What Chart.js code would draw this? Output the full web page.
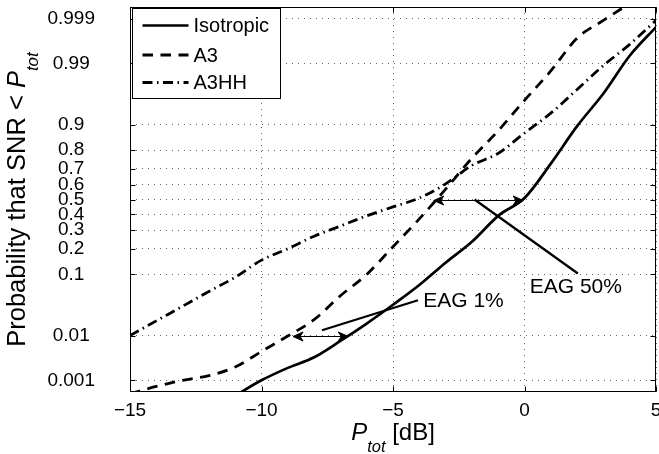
<!DOCTYPE html>
<html>
<head>
<meta charset="utf-8">
<script src="https://cdn.jsdelivr.net/npm/chart.js@4.4.1/dist/chart.umd.min.js"></script>
<style>
    html, body { margin: 0; padding: 0; background: #fff; }
    #Wrap { width: 659px; height: 454px; position: relative; }
</style>
</head>
<body>
<div id="Wrap"><canvas id="ChartCanvas"></canvas></div>
<script>
// Series: x in dB, y as probability
const isoDb    = [-11, -10, -9, -8, -7, -6, -5, -4, -3, -2, -1, 0, 1, 2, 3, 4, 5];
const isoProb  = [0.0004, 0.001, 0.002, 0.0035, 0.0078, 0.017, 0.036, 0.072, 0.14, 0.235, 0.39, 0.51, 0.73, 0.895, 0.965, 0.993, 0.9984];

const a3Db     = [-15, -14, -13, -12, -11, -10, -9, -8, -7, -6, -5, -4, -3, -2, -1, 0, 1, 2, 3, 4];
const a3Prob   = [0.00045, 0.0007, 0.001, 0.0013, 0.0021, 0.0047, 0.0098, 0.02, 0.05, 0.1, 0.21, 0.37, 0.57, 0.76, 0.88, 0.955, 0.986, 0.9971, 0.9989, 0.9996];

const a3hhDb   = [-15, -14, -13, -12, -11, -10, -9, -8, -7, -6, -5, -4, -3, -2, -1, 0, 1, 2, 3, 4, 5];
const a3hhProb = [0.01, 0.019, 0.034, 0.058, 0.092, 0.15, 0.2, 0.265, 0.325, 0.39, 0.45, 0.51, 0.605, 0.72, 0.785, 0.872, 0.93, 0.97, 0.989, 0.996, 0.9989];

const seriesLabels = ['Isotropic', 'A3', 'A3HH'];

// Axis ticks
const probTicks      = [0.001, 0.01, 0.1, 0.2, 0.3, 0.4, 0.5, 0.6, 0.7, 0.8, 0.9, 0.99, 0.999];
const probTickLabels = ['0.001', '0.01', '0.1', '0.2', '0.3', '0.4', '0.5', '0.6', '0.7', '0.8', '0.9', '0.99', '0.999'];
const dbTicks        = [-15, -10, -5, 0, 5];

// Annotations (data units)
const eag50Arrow = { fromDb: -3.45, toDb: -0.05, prob: 0.5 };
const eag1Arrow  = { fromDb: -8.8, toDb: -6.7, prob: 0.01 };
const eag50Line  = { fromDb: -1.9, fromProb: 0.5, toDb: 2.03, toProb: 0.103 };
const eag1Line   = { fromDb: -7.7, fromProb: 0.0127, toDb: -4.05, toProb: 0.0425 };
const eag50Text  = { text: 'EAG 50%', db: 0.2, prob: 0.0544 };
const eag1Text   = { text: 'EAG 1%', db: -3.85, prob: 0.0333 };

const FONT = "'Liberation Sans', Arial, Helvetica, sans-serif";

// Inverse normal CDF (Acklam), gives the normal-probability axis
function probit(p)
{
    const a = [-3.969683028665376e+01, 2.209460984245205e+02, -2.759285104469687e+02, 1.383577518672690e+02, -3.066479806614716e+01, 2.506628277459239e+00];
    const b = [-5.447609879822406e+01, 1.615858368580409e+02, -1.556989798598866e+02, 6.680131188771972e+01, -1.328068155288572e+01];
    const c = [-7.784894002430293e-03, -3.223964580411365e-01, -2.400758277161838e+00, -2.549732539343734e+00, 4.374664141464968e+00, 2.938163982698783e+00];
    const d = [7.784695709041462e-03, 3.224671290700398e-01, 2.445134137142996e+00, 3.754408661907416e+00];
    const pLow = 0.02425;
    let q, r;
    if (p < pLow)
    {
        q = Math.sqrt(-2 * Math.log(p));
        return (((((c[0]*q+c[1])*q+c[2])*q+c[3])*q+c[4])*q+c[5]) / ((((d[0]*q+d[1])*q+d[2])*q+d[3])*q+1);
    }
    if (p <= 1 - pLow)
    {
        q = p - 0.5; r = q * q;
        return (((((a[0]*r+a[1])*r+a[2])*r+a[3])*r+a[4])*r+a[5])*q / (((((b[0]*r+b[1])*r+b[2])*r+b[3])*r+b[4])*r+1);
    }
    q = Math.sqrt(-2 * Math.log(1 - p));
    return -(((((c[0]*q+c[1])*q+c[2])*q+c[3])*q+c[4])*q+c[5]) / ((((d[0]*q+d[1])*q+d[2])*q+d[3])*q+1);
}

function toPoints(xs, ps)
{
    return xs.map((x, i) => ({ x: x, y: probit(ps[i]) }));
}

// Draws text pieces in a row (normal + italic + subscript), centred on x
function drawPieces(ctx, pieces, cx, baseY)
{
    let total = 0;
    pieces.forEach(p => { ctx.font = p.font; p.w = ctx.measureText(p.text).width; total += p.w + (p.dx || 0); });
    let x = cx - total / 2;
    ctx.textAlign = 'left';
    ctx.textBaseline = 'alphabetic';
    pieces.forEach(p => { ctx.font = p.font; ctx.fillText(p.text, x, baseY + (p.dy || 0)); x += p.w + (p.dx || 0); });
}

function drawArrowHead(ctx, x, y, dir)
{
    ctx.beginPath();
    ctx.moveTo(x + dir * 10, y - 4.5);
    ctx.lineTo(x, y);
    ctx.lineTo(x + dir * 10, y + 4.5);
    ctx.lineTo(x + dir * 7, y);
    ctx.closePath();
    ctx.fill();
    ctx.stroke();
}

const decorPlugin = {
    id: 'decor',
    afterDatasetsDraw(chart)
    {
        const ctx = chart.ctx;
        const xs = chart.scales.x, ys = chart.scales.y;
        ctx.save();
        ctx.strokeStyle = '#000';
        ctx.fillStyle = '#000';
        ctx.setLineDash([]);
        ctx.lineJoin = 'miter';

        // double arrows
        [eag50Arrow, eag1Arrow].forEach(a => {
            const y = Math.round(ys.getPixelForValue(probit(a.prob))) + 0.5;
            const x1 = xs.getPixelForValue(a.fromDb), x2 = xs.getPixelForValue(a.toDb);
            ctx.lineWidth = 1;
            ctx.beginPath(); ctx.moveTo(x1 + 6, y); ctx.lineTo(x2 - 6, y); ctx.stroke();
            drawArrowHead(ctx, x1, y, 1);
            drawArrowHead(ctx, x2, y, -1);
        });

        // pointer lines
        ctx.lineWidth = 2.3;
        [eag50Line, eag1Line].forEach(l => {
            ctx.beginPath();
            ctx.moveTo(xs.getPixelForValue(l.fromDb), ys.getPixelForValue(probit(l.fromProb)));
            ctx.lineTo(xs.getPixelForValue(l.toDb), ys.getPixelForValue(probit(l.toProb)));
            ctx.stroke();
        });

        // labels
        ctx.font = '21px ' + FONT;
        ctx.textAlign = 'left';
        ctx.textBaseline = 'alphabetic';
        [eag50Text, eag1Text].forEach(t => {
            ctx.fillText(t.text, xs.getPixelForValue(t.db), ys.getPixelForValue(probit(t.prob)));
        });
        ctx.restore();
    },
    afterDraw(chart)
    {
        const ctx = chart.ctx;
        const area = chart.chartArea;
        const xs = chart.scales.x, ys = chart.scales.y;
        ctx.save();
        ctx.strokeStyle = '#000';
        ctx.fillStyle = '#000';
        ctx.lineWidth = 1;
        ctx.setLineDash([]);

        // frame
        const L = Math.round(area.left) + 0.5, R = Math.round(area.right) - 0.5;
        const T = Math.round(area.top) + 0.5, B = Math.round(area.bottom) - 0.5;
        ctx.strokeRect(L, T, R - L, B - T);

        // inward tick marks
        ctx.beginPath();
        dbTicks.forEach(v => {
            const x = Math.round(xs.getPixelForValue(v)) + 0.5;
            ctx.moveTo(x, B); ctx.lineTo(x, B - 5);
            ctx.moveTo(x, T); ctx.lineTo(x, T + 5);
        });
        probTicks.forEach(p => {
            const y = Math.round(ys.getPixelForValue(probit(p))) + 0.5;
            ctx.moveTo(L, y); ctx.lineTo(L + 5, y);
            ctx.moveTo(R, y); ctx.lineTo(R - 5, y);
        });
        ctx.stroke();

        // legend box
        const bx = L + 2, by = T + 1, bw = 148, bh = 90;
        ctx.fillStyle = '#fff';
        ctx.fillRect(bx, by, bw, bh);
        ctx.strokeRect(bx, by, bw, bh);
        ctx.fillStyle = '#000';
        ctx.font = '20px ' + FONT;
        ctx.textAlign = 'left';
        ctx.textBaseline = 'middle';
        const rowY = [17, 46.5, 74];
        chart.data.datasets.forEach((ds, i) => {
            const y = by + rowY[i];
            ctx.save();
            ctx.lineWidth = ds.borderWidth;
            ctx.setLineDash(ds.borderDash || []);
            ctx.beginPath();
            ctx.moveTo(bx + 10, y);
            ctx.lineTo(bx + 56, y);
            ctx.stroke();
            ctx.restore();
            ctx.fillText(ds.label, bx + 61, y + 1);
        });

        // axis titles
        const italic = 'italic ';
        drawPieces(ctx, [
            { text: 'P', font: italic + '24px ' + FONT },
            { text: 'tot', font: italic + '16.5px ' + FONT, dy: 12 },
            { text: ' [dB]', font: '24px ' + FONT }
        ], (area.left + area.right) / 2, 440);

        ctx.save();
        ctx.translate(25, (area.top + area.bottom) / 2);
        ctx.rotate(-Math.PI / 2);
        drawPieces(ctx, [
            { text: 'Probability that SNR < ', font: '25.5px ' + FONT },
            { text: 'P', font: italic + '25.5px ' + FONT },
            { text: 'tot', font: italic + '17px ' + FONT, dy: 13 }
        ], 0, 0);
        ctx.restore();

        ctx.restore();
    }
};

const canvas = document.getElementById('ChartCanvas');
const chart = new Chart(canvas.getContext('2d'), {
    type: 'line',
    data: {
        datasets: [
            { label: seriesLabels[0], data: toPoints(isoDb, isoProb),   borderColor: '#000', borderWidth: 2.7, borderDash: [] },
            { label: seriesLabels[1], data: toPoints(a3Db, a3Prob),     borderColor: '#000', borderWidth: 2.8, borderDash: [10.5, 7.5] },
            { label: seriesLabels[2], data: toPoints(a3hhDb, a3hhProb), borderColor: '#000', borderWidth: 2.8, borderDash: [10, 4.5, 1.5, 4.5] }
        ]
    },
    options: {
        responsive: true,
        maintainAspectRatio: false,
        animation: false,
        events: [],
        layout: { padding: { top: 7, right: 3, left: 0, bottom: 0 } },
        elements: { point: { radius: 0 }, line: { cubicInterpolationMode: 'monotone', borderCapStyle: 'butt' } },
        plugins: { legend: { display: false }, tooltip: { enabled: false } },
        scales: {
            x: {
                type: 'linear',
                min: -15,
                max: 5,
                afterBuildTicks: scale => { scale.ticks = dbTicks.map(v => ({ value: v })); },
                afterFit: scale => { scale.height = 62; scale.paddingLeft = 0; scale.paddingRight = 0; },
                ticks: {
                    color: '#000',
                    font: { family: FONT, size: 19 },
                    padding: 7,
                    maxRotation: 0,
                    autoSkip: false,
                    callback: v => (v < 0 ? '\u2212' + Math.abs(v) : String(v))
                },
                grid: { color: 'rgba(0,0,0,0.6)', lineWidth: 1, drawTicks: false },
                border: { display: false, dash: [1, 5] }
            },
            y: {
                type: 'linear',
                min: probit(0.0005),
                max: probit(0.9995),
                afterBuildTicks: scale => { scale.ticks = probTicks.map(p => ({ value: probit(p) })); },
                afterFit: scale => { scale.width = 130; scale.paddingTop = 0; scale.paddingBottom = 0; },
                ticks: {
                    color: '#000',
                    font: { family: FONT, size: 19 },
                    padding: 35,
                    crossAlign: 'center',
                    autoSkip: false,
                    callback: (v, i) => probTickLabels[i]
                },
                grid: { color: 'rgba(0,0,0,0.6)', lineWidth: 1, drawTicks: false },
                border: { display: false, dash: [1, 5] }
            }
        }
    },
    plugins: [decorPlugin]
});
</script>
</body>
</html>
